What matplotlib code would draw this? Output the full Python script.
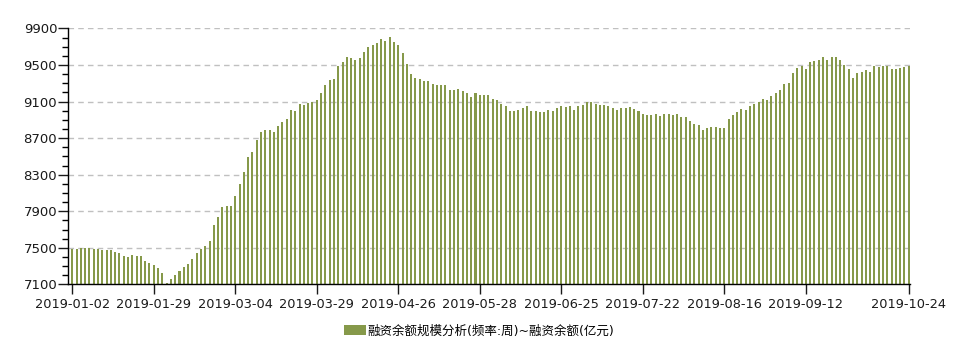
import matplotlib
matplotlib.use('Agg')
import matplotlib.pyplot as plt
import numpy as np
from matplotlib.ticker import MultipleLocator

# daily financing balance (100 million yuan), trading days 2019-01-02 .. 2019-10-24
balance = [
    7490, 7490, 7501, 7501, 7501, 7490, 7490, 7472, 7479, 7472, 7450, 7440, 7407, 7396, 7418, 7407, 7407,
    7353, 7331, 7310, 7277, 7223, 7114, 7158, 7201, 7245, 7288, 7320, 7375, 7440, 7483, 7515, 7570,
    7754, 7841, 7949, 7960, 7960, 8068, 8198, 8328, 8491, 8545, 8675, 8762, 8794, 8784, 8762, 8827,
    8881, 8914, 9011, 9000, 9076, 9066, 9087, 9098, 9120, 9196, 9282, 9336, 9347, 9488, 9532, 9586,
    9575, 9553, 9575, 9640, 9694, 9716, 9737, 9781, 9759, 9803, 9748, 9716, 9629, 9510, 9402, 9358,
    9347, 9326, 9326, 9293, 9282, 9282, 9282, 9228, 9228, 9239, 9217, 9196, 9152, 9196, 9174, 9174, 9174,
    9131, 9120, 9076, 9055, 9000, 9000, 9011, 9033, 9055, 9000, 9000, 8990, 8990, 9011, 9000, 9033,
    9055, 9044, 9055, 9011, 9055, 9066, 9098, 9098, 9076, 9066, 9066, 9055, 9033, 9011, 9033, 9033, 9044,
    9022, 9000, 8968, 8957, 8957, 8968, 8946, 8968, 8968, 8957, 8968, 8935, 8935, 8892, 8849, 8838,
    8794, 8805, 8816, 8816, 8805, 8805, 8914, 8957, 8990, 9022, 9011, 9055, 9076, 9098, 9131, 9120,
    9163, 9196, 9228, 9293, 9304, 9412, 9467, 9488, 9456, 9532, 9542, 9553, 9586, 9553, 9586, 9586,
    9553, 9499, 9456, 9358, 9412, 9423, 9445, 9423, 9488, 9477, 9488, 9488, 9456, 9456, 9467, 9477, 9488,
]

# tick labels and the trading-day index they sit at
tick_labels = ['2019-01-02', '2019-01-29', '2019-03-04', '2019-03-29', '2019-04-26', '2019-05-28',
               '2019-06-25', '2019-07-22', '2019-08-16', '2019-09-12', '2019-10-24']
tick_pos = [0, 19, 38, 57, 76, 95, 114, 133, 152, 171, 195]

y_ticks = [7100, 7500, 7900, 8300, 8700, 9100, 9500, 9900]
series_name = '融资余额规模分析(频率:周)~融资余额(亿元)'
bar_color = '#86994a'

plt.rcParams['font.family'] = ['DejaVu Sans', 'Noto Sans CJK SC']

fig = plt.figure(figsize=(9.67, 3.55), dpi=100)
ax = fig.add_axes([0.0706, 0.199, 0.8705, 0.721])

x = np.arange(len(balance))
ax.bar(x, balance, width=0.47, color=bar_color, label=series_name, zorder=2)

ax.set_xlim(-0.93, 195.3)
ax.set_ylim(7100, 9900)
ax.set_yticks(y_ticks)
ax.yaxis.set_minor_locator(MultipleLocator(100))
ax.set_xticks(tick_pos)
ax.set_xticklabels(tick_labels)

ax.tick_params(axis='y', which='major', length=7, width=1, pad=1, labelsize=9.5, colors='#1a1a1a')
ax.tick_params(axis='y', which='minor', length=4, width=1)
ax.tick_params(axis='x', length=7, width=1, pad=3, labelsize=9.3, colors='#1a1a1a')
for s in ['top', 'right']:
    ax.spines[s].set_visible(False)
for s in ['left', 'bottom']:
    ax.spines[s].set_linewidth(1)

ax.set_axisbelow(True)
ax.grid(axis='y', linestyle=(0, (4, 3)), color='#c0c0c0', linewidth=1)

fig.legend(loc='center', bbox_to_anchor=(479 / 967, 0.068), frameon=False,
           handlelength=1.76, handleheight=0.8, handletextpad=0.15, fontsize=9)

fig.savefig('out.png', dpi=100)
